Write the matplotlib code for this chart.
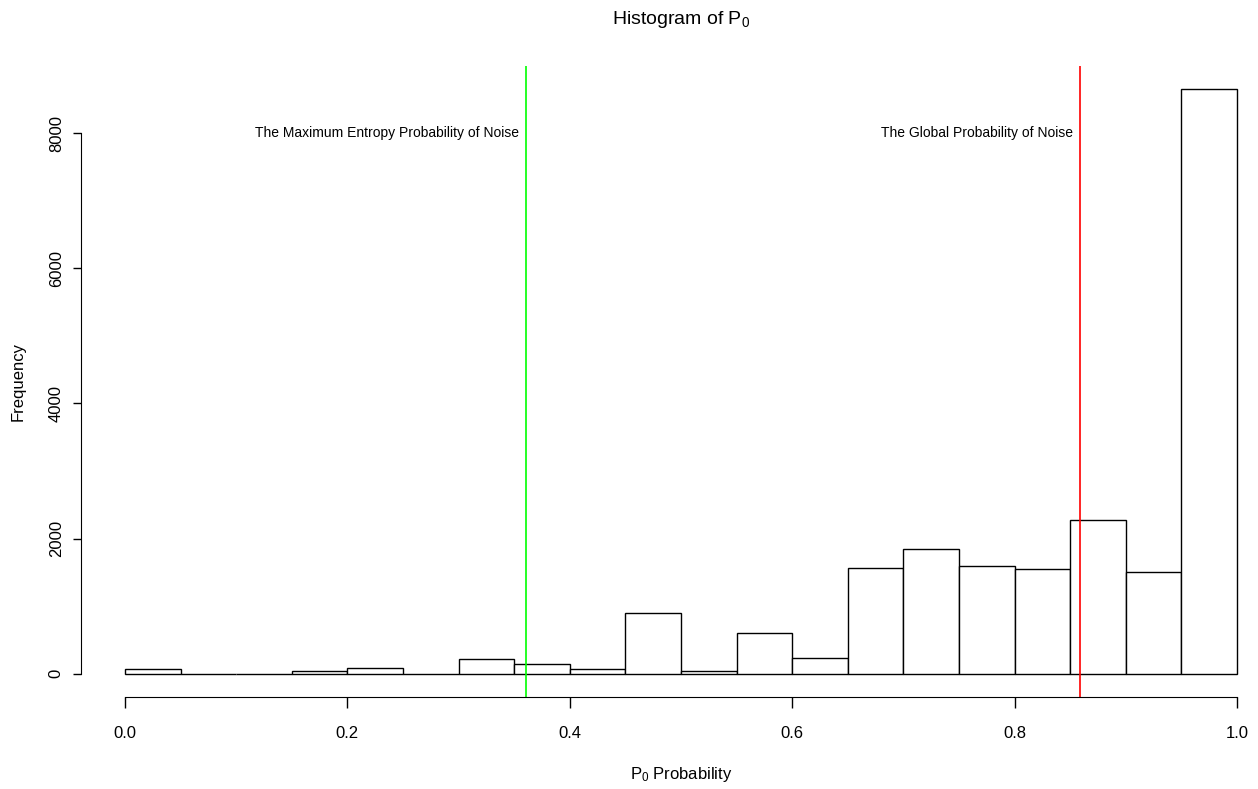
import numpy as np
import matplotlib
matplotlib.use("Agg")
import matplotlib.pyplot as plt
from matplotlib import font_manager

# R-like look: Arial-style font
names = {f.name for f in font_manager.fontManager.ttflist}
fam = "Liberation Sans Narrow" if "Liberation Sans Narrow" in names else "Liberation Sans"
plt.rcParams["font.family"] = [fam, "DejaVu Sans"]
plt.rcParams["mathtext.fontset"] = "custom"
plt.rcParams["mathtext.rm"] = fam
plt.rcParams["mathtext.it"] = fam

# histogram of P0 (bins of width 0.05 from 0 to 1)
bin_edges = np.round(np.arange(0, 1.0001, 0.05), 2)
counts = [65, 0, 0, 35, 85, 0, 220, 140, 65, 895,
          40, 600, 230, 1570, 1850, 1590, 1550, 2275, 1505, 8650]

max_ent_p = 0.3606   # maximum entropy probability of noise
global_p = 0.8588    # global probability of noise

W, H = 1258, 789
fig = plt.figure(figsize=(W / 100, H / 100), dpi=100)
# plot region as in R (extends past the right edge, as in the reference)
ax = fig.add_axes([80.5 / W, (H - 697) / H, 1201 / W, 631 / H])

ax.bar(bin_edges[:-1], counts, width=0.05, align="edge",
       color="white", edgecolor="black", linewidth=1.0)

ymax = max(counts)
ax.set_xlim(-0.04, 1.04)
ax.set_ylim(-0.04 * ymax, 1.04 * ymax)

ax.axvline(max_ent_p, color="#00ff00", linewidth=1.2)
ax.axvline(global_p, color="#ff0000", linewidth=1.2)

ax.text(max_ent_p - 0.006, 8000, "The Maximum Entropy Probability of Noise",
        ha="right", va="center", fontsize=10)
ax.text(global_p - 0.006, 8000, "The Global Probability of Noise",
        ha="right", va="center", fontsize=10)

# R style detached axes
for s in ["top", "right"]:
    ax.spines[s].set_visible(False)
ax.spines["bottom"].set_bounds(0, 1)
ax.spines["left"].set_bounds(0, 8000)
ax.set_xticks([0.0, 0.2, 0.4, 0.6, 0.8, 1.0])
ax.set_xticklabels(["0.0", "0.2", "0.4", "0.6", "0.8", "1.0"])
ax.set_yticks([0, 2000, 4000, 6000, 8000])
ax.tick_params(axis="both", direction="out", width=1, labelsize=12)
ax.tick_params(axis="x", length=8, pad=13)
ax.tick_params(axis="y", length=6, pad=6)
plt.setp(ax.get_yticklabels(), rotation=90, va="center")

ax.set_title(r"Histogram of $\mathrm{P_0}$", fontsize=14, pad=30)
ax.set_xlabel(r"$\mathrm{P_0}$ Probability", fontsize=12, labelpad=17)
ax.set_ylabel("Frequency", fontsize=12, va="center")
ax.yaxis.set_label_coords(-62.5 / 1201, 0.5)

fig.savefig("out.png", dpi=100)
